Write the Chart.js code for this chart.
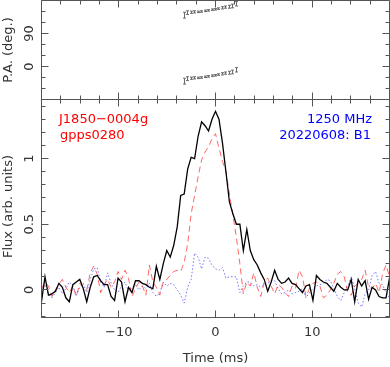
<!DOCTYPE html>
<html><head><meta charset="utf-8">
<script src="https://cdn.jsdelivr.net/npm/chart.js@4/dist/chart.umd.min.js"></script>
<style>
html,body{margin:0;padding:0;background:#fff;}
#wrap{position:relative;width:390px;height:367px;overflow:hidden;}
canvas{position:absolute;left:0;top:0;}
</style></head><body>
<div id="wrap"><canvas id="pa" width="390" height="367"></canvas><canvas id="flux" width="390" height="367"></canvas></div>
<script>
// ---- data ----
const TIME_MS = [-18.00,-17.64,-17.28,-16.92,-16.56,-16.20,-15.84,-15.48,-15.12,-14.76,
 -14.40,-14.04,-13.68,-13.32,-12.96,-12.60,-12.24,-11.88,-11.52,-11.16,
 -10.80,-10.44,-10.08,-9.72,-9.36,-9.00,-8.64,-8.28,-7.92,-7.56,
 -7.20,-6.84,-6.48,-6.12,-5.76,-5.40,-5.04,-4.68,-4.32,-3.96,
 -3.60,-3.24,-2.88,-2.52,-2.16,-1.80,-1.44,-1.08,-0.72,-0.36,
 0.00,0.36,0.72,1.08,1.44,1.80,2.16,2.52,2.88,3.24,
 3.60,3.96,4.32,4.68,5.04,5.40,5.76,6.12,6.48,6.84,
 7.20,7.56,7.92,8.28,8.64,9.00,9.36,9.72,10.08,10.44,
 10.80,11.16,11.52,11.88,12.24,12.60,12.96,13.32,13.68,14.04,
 14.40,14.76,15.12,15.48,15.84,16.20,16.56,16.92,17.28,17.64,
 18.00];
const STOKES_I = [-0.09,0.10,-0.04,-0.03,-0.01,0.05,0.02,-0.06,-0.09,0.04,
 0.06,0.08,0.01,-0.09,0.02,0.10,0.11,0.07,0.04,0.04,
 -0.05,-0.08,0.09,0.06,-0.09,0.02,-0.02,0.07,0.07,0.05,
 0.04,0.02,0.01,0.18,0.08,0.20,0.30,0.25,0.34,0.48,
 0.72,0.73,0.92,1.01,1.00,1.17,1.28,1.25,1.21,1.30,
 1.36,1.30,1.12,0.90,0.67,0.58,0.50,0.50,0.30,0.46,
 0.30,0.23,0.19,0.13,0.08,-0.01,0.06,0.15,0.08,0.05,
 0.06,0.09,0.05,0.04,0.01,-0.02,0.03,0.04,-0.08,0.11,
 0.08,0.06,0.05,0.02,-0.01,0.05,0.02,0.00,0.00,0.08,
 -0.09,0.08,0.03,0.07,-0.07,0.02,0.00,-0.05,-0.06,-0.06,
 0.09];
const LINEAR_L = [0.01,0.06,0.03,-0.05,0.00,0.04,0.08,0.02,-0.02,0.03,
 -0.05,0.05,0.02,0.00,0.13,0.18,0.12,-0.02,0.04,0.08,
 0.02,0.06,0.14,0.08,0.15,0.09,-0.05,0.01,0.06,0.03,
 -0.04,0.19,0.06,0.02,-0.04,0.06,0.08,0.11,0.14,0.15,
 0.14,0.21,0.35,0.58,0.72,0.86,0.99,1.05,1.09,1.15,
 1.19,1.08,0.98,0.90,0.73,0.57,0.40,0.20,-0.03,0.06,
 0.03,0.13,0.02,-0.05,0.06,0.09,0.03,-0.03,0.04,0.02,
 -0.02,-0.05,0.03,0.01,0.15,0.10,-0.05,0.01,0.05,0.06,
 0.03,-0.06,-0.04,0.00,0.05,0.12,0.14,0.10,-0.02,-0.04,
 0.03,0.05,0.08,0.15,0.02,0.01,0.05,-0.02,0.12,0.19,
 0.10];
const CIRCULAR_V = [0.00,0.04,-0.03,-0.06,-0.02,0.02,-0.03,0.01,0.06,0.03,
 -0.04,0.02,0.05,-0.02,0.08,0.16,0.17,0.06,0.02,0.13,
 0.05,0.00,-0.02,0.03,0.06,-0.01,0.02,0.04,0.00,0.03,
 0.01,0.05,-0.02,-0.05,-0.02,0.06,0.03,0.05,0.04,0.00,
 -0.04,-0.10,0.02,0.08,0.28,0.25,0.16,0.25,0.24,0.19,
 0.16,0.15,0.17,0.09,0.10,0.10,0.10,-0.02,0.03,0.06,
 0.06,0.03,0.04,0.02,0.04,0.05,0.07,0.07,0.01,-0.03,
 -0.02,0.00,-0.03,-0.02,-0.01,0.01,-0.06,-0.02,0.01,0.03,
 0.04,0.05,0.08,0.07,0.01,-0.05,-0.08,-0.02,0.03,0.10,
 0.01,-0.10,-0.13,-0.03,0.00,0.11,0.14,0.05,0.04,-0.02,
 -0.06];
const PA_TIME_MS = [-3.24,-2.88,-2.52,-2.16,-1.80,-1.44,-1.08,-0.72,-0.36,0.00,0.36,0.72,1.08,1.44,1.80,2.16];
const PA_DEG     = [-40,-33,-32,-31,-31,-30,-28,-27,-25,-24,-22,-20,-18,-17,-15,-9];
const PA_ERR_DEG = [8,5,3,3,2,2,2,2,2,2,2,3,3,4,5,6];

const X_MAJOR_TICKS = [-10, 0, 10];
const X_TICK_LABELS = ['−10', '0', '10'];
const X_MINOR_TICKS = [-18,-16,-14,-12,-8,-6,-4,-2,2,4,6,8,12,14,16,18];
const FLUX_MAJOR_TICKS = [0, 0.5, 1];
const FLUX_TICK_LABELS = ['0', '0.5', '1'];
const FLUX_MINOR_TICKS = [-0.2,-0.1,0.1,0.2,0.3,0.4,0.6,0.7,0.8,0.9,1.1,1.2,1.3,1.4];
const PA_MAJOR_TICKS = [0, 90];
const PA_TICK_LABELS = ['0', '90'];
const PA_MINOR_TICKS = [-60,-30,30,60,120,150];

const FONT = '13px "DejaVu Sans"';
const FRAME = '#555';
const TEXT = '#333';

function pgFrame(cfg) {
  return {
    id: 'pgFrame',
    afterDraw(chart) {
      const ctx = chart.ctx, a = chart.chartArea, xs = chart.scales.x, ys = chart.scales.y;
      const snap = p => Math.floor(p) + 0.5;
      ctx.save();
      ctx.strokeStyle = FRAME; ctx.lineWidth = 1; ctx.setLineDash([]);
      ctx.beginPath();
      ctx.rect(a.left, a.top, a.right - a.left, a.bottom - a.top);
      const xt = (vals, len) => vals.forEach(v => {
        const p = snap(xs.getPixelForValue(v));
        ctx.moveTo(p, a.bottom); ctx.lineTo(p, a.bottom - len);
        ctx.moveTo(p, a.top); ctx.lineTo(p, a.top + len);
      });
      const yt = (vals, len) => vals.forEach(v => {
        const p = snap(ys.getPixelForValue(v));
        ctx.moveTo(a.left, p); ctx.lineTo(a.left + len, p);
        ctx.moveTo(a.right, p); ctx.lineTo(a.right - len, p);
      });
      xt(X_MAJOR_TICKS, 7); xt(X_MINOR_TICKS, 4);
      yt(cfg.yMajor, 7); yt(cfg.yMinor, 4);
      ctx.stroke();
      ctx.fillStyle = TEXT; ctx.font = FONT; ctx.textBaseline = 'alphabetic';
      cfg.yMajor.forEach((v, i) => {
        const p = ys.getPixelForValue(v);
        ctx.save(); ctx.translate(33, p); ctx.rotate(-Math.PI / 2);
        ctx.textAlign = 'center'; ctx.fillText(cfg.yLabels[i], 0, 0); ctx.restore();
      });
      ctx.save(); ctx.translate(11.5, (a.top + a.bottom) / 2 + cfg.titleShift);
      ctx.rotate(-Math.PI / 2); ctx.textAlign = 'center'; ctx.fillText(cfg.yTitle, 0, 0); ctx.restore();
      if (cfg.xLabels) {
        ctx.textAlign = 'center';
        X_MAJOR_TICKS.forEach((v, i) => ctx.fillText(X_TICK_LABELS[i], xs.getPixelForValue(v), 335.5));
        ctx.fillText('Time (ms)', (a.left + a.right) / 2, 361.5);
      }
      (cfg.notes || []).forEach(n => {
        ctx.fillStyle = n.color; ctx.textAlign = n.align;
        ctx.fillText(n.text, n.x, n.y);
      });
      ctx.restore();
    }
  };
}

const errorBars = {
  id: 'errorBars',
  afterDatasetsDraw(chart) {
    const ctx = chart.ctx, xs = chart.scales.x, ys = chart.scales.y;
    ctx.save();
    ctx.strokeStyle = '#6a6a6a'; ctx.lineWidth = 1;
    ctx.beginPath();
    chart.data.datasets.forEach(ds => {
      ds.data.forEach((pt, i) => {
        const e = ds.errors[i];
        const x = Math.floor(xs.getPixelForValue(pt.x)) + 0.5;
        const y1 = ys.getPixelForValue(pt.y - e), y2 = ys.getPixelForValue(pt.y + e);
        ctx.moveTo(x, y1); ctx.lineTo(x, y2);
        ctx.moveTo(x - 1.5, y1); ctx.lineTo(x + 1.5, y1);
        ctx.moveTo(x - 1.5, y2); ctx.lineTo(x + 1.5, y2);
      });
    });
    ctx.stroke();
    ctx.restore();
  }
};

const pts = (xs, ys) => xs.map((x, i) => ({ x, y: ys[i] }));
const common = {
  responsive: false, animation: false, devicePixelRatio: 1,
  plugins: { legend: { display: false }, tooltip: { enabled: false } },
  events: []
};

new Chart(document.getElementById('pa'), {
  type: 'scatter',
  data: { datasets: [
    { data: pts(PA_TIME_MS, PA_DEG), errors: PA_ERR_DEG, pointRadius: 0, showLine: false },
    { data: pts(PA_TIME_MS, PA_DEG.map(v => v + 180)), errors: PA_ERR_DEG, pointRadius: 0, showLine: false }
  ]},
  options: Object.assign({}, common, {
    layout: { padding: { left: 41.5, right: 0.5, top: 0.5, bottom: 267.5 } },
    scales: {
      x: { type: 'linear', min: -18, max: 18, display: false },
      y: { type: 'linear', min: -90, max: 180, display: false }
    }
  }),
  plugins: [errorBars, pgFrame({ yMajor: PA_MAJOR_TICKS, yMinor: PA_MINOR_TICKS, yLabels: PA_TICK_LABELS, yTitle: 'P.A. (deg.)', titleShift: 0, xLabels: false })]
});

new Chart(document.getElementById('flux'), {
  type: 'line',
  data: { datasets: [
    { data: pts(TIME_MS, STOKES_I), borderColor: '#000', borderWidth: 1.3, pointRadius: 0, tension: 0 },
    { data: pts(TIME_MS, LINEAR_L), borderColor: 'rgba(255,0,0,0.6)', borderWidth: 1, borderDash: [6, 4], pointRadius: 0, tension: 0 },
    { data: pts(TIME_MS, CIRCULAR_V), borderColor: 'rgba(0,0,255,0.55)', borderWidth: 1, borderDash: [1.5, 2], pointRadius: 0, tension: 0 }
  ]},
  options: Object.assign({}, common, {
    layout: { padding: { left: 41.5, right: 0.5, top: 99.5, bottom: 49.5 } },
    scales: {
      x: { type: 'linear', min: -18, max: 18, display: false },
      y: { type: 'linear', min: -0.21, max: 1.45, display: false }
    }
  }),
  plugins: [pgFrame({ yMajor: FLUX_MAJOR_TICKS, yMinor: FLUX_MINOR_TICKS, yLabels: FLUX_TICK_LABELS, yTitle: 'Flux (arb. units)', titleShift: -2, xLabels: true,
    notes: [
      { text: 'J1850−0004g', x: 59, y: 122.5, align: 'left', color: '#f00' },
      { text: 'gpps0280', x: 60, y: 138.5, align: 'left', color: '#f00' },
      { text: '1250 MHz', x: 372, y: 122.5, align: 'right', color: '#00f' },
      { text: '20220608: B1', x: 371, y: 138.5, align: 'right', color: '#00f' }
    ] })]
});
</script>
</body></html>
